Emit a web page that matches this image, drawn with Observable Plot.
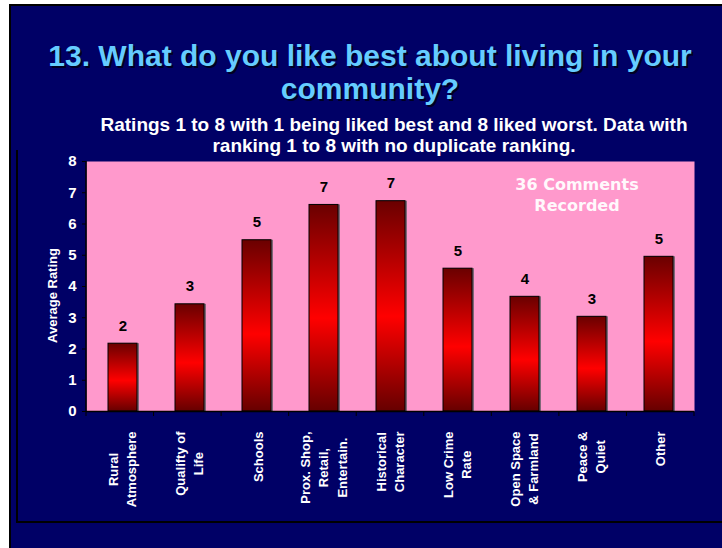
<!DOCTYPE html>
<html>
<head>
<meta charset="utf-8">
<script src="https://cdn.jsdelivr.net/npm/d3@7"></script>
<script src="https://cdn.jsdelivr.net/npm/@observablehq/plot@0.6"></script>
<style>
  html, body { margin: 0; padding: 0; background: #fff; width: 722px; height: 548px; overflow: hidden; }
  #slide { position: absolute; left: 9px; top: 4px; width: 713px; height: 544px; background: #000066;
           border-left: 2px solid #000; border-top: 2px solid #000; box-sizing: border-box; }
  #frameV { position: absolute; left: 16px; top: 150px; width: 2px; height: 373px; background: #000; }
  #frameH { position: absolute; left: 16px; top: 521px; width: 706px; height: 2px; background: #000; }
  #title { position: absolute; left: 18px; width: 704px; top: 39px; text-align: center;
           font-family: "Liberation Sans", Arial, sans-serif; font-weight: bold; font-size: 30px; line-height: 33px;
           color: #66ccff; text-shadow: 2px 2px 0 #000022; }
  #subtitle { position: absolute; left: 60px; width: 668px; top: 114px; text-align: center;
           font-family: "Liberation Sans", Arial, sans-serif; font-weight: bold; font-size: 19px; line-height: 21px;
           color: #fff; }
  #chart { position: absolute; left: 0; top: 150px; }
</style>
</head>
<body>
<div id="slide"></div>
<div id="frameV"></div>
<div id="frameH"></div>
<div id="title">13. What do you like best about living in your<br>community?</div>
<div id="subtitle">Ratings 1 to 8 with 1 being liked best and 8 liked worst. Data with<br>ranking 1 to 8 with no duplicate ranking.</div>
<svg width="0" height="0" style="position:absolute">
  <defs>
    <linearGradient id="barGrad" x1="0" y1="0" x2="0" y2="1">
      <stop offset="0" stop-color="#6a0000"/>
      <stop offset="0.55" stop-color="#ff0000"/>
      <stop offset="1" stop-color="#660000"/>
    </linearGradient>
  </defs>
</svg>
<div id="chart"></div>
<script>
const categories = ["Rural\nAtmosphere", "Qualifty of\nLife", "Schools", "Prox. Shop,\nRetail,\nEntertain.",
  "Historical\nCharacter", "Low Crime\nRate", "Open Space\n& Farmland", "Peace &\nQuiet", "Other"];
const ratings = [2.17, 3.43, 5.48, 6.61, 6.73, 4.57, 3.67, 3.03, 4.95];
const yTicks = [0, 1, 2, 3, 4, 5, 6, 7, 8];
const yLabel = "Average Rating";
const noteText = ["36 Comments\nRecorded"];
const noteCategory = "Peace &\nQuiet";
const noteValue = 7;

const rows = categories.map((c, i) => ({cat: c, value: ratings[i]}));
const font = "'Liberation Sans', Arial, sans-serif";

const chart = Plot.plot({
  width: 722, height: 372,
  marginLeft: 86, marginRight: 28, marginTop: 11, marginBottom: 111,
  style: {background: "transparent", fontFamily: font, overflow: "visible", color: "#fff"},
  x: {domain: categories, paddingInner: 0.57, paddingOuter: 0.285, axis: null},
  y: {domain: [0, 8], axis: null},
  marks: [
    Plot.frame({fill: "#ff99cc", stroke: "none"}),
    Plot.barY(rows, {x: "cat", y: "value", fill: "#806878", dx: 2}),
    Plot.barY(rows, {x: "cat", y: "value", fill: "url(#barGrad)", stroke: "#000", strokeWidth: 1}),
    Plot.text(rows, {x: "cat", y: "value", text: d => d3.format(".0f")(d.value), dy: -18,
      fill: "#000", fontSize: 15, fontWeight: "bold"}),
    Plot.ruleY([0], {stroke: "#000", strokeWidth: 1.5}),
    Plot.axisY(yTicks, {tickSize: 4, tickPadding: 6, stroke: "#000", fill: "#fff", fontSize: 15,
      fontWeight: "bold", label: null}),
    Plot.text([yLabel], {frameAnchor: "left", textAnchor: "middle", lineAnchor: "middle", rotate: -90,
      dx: -34, dy: 9, fill: "#fff", fontSize: 13, fontWeight: "bold"}),
    Plot.text(categories, {x: d => d, frameAnchor: "bottom", rotate: -90, textAnchor: "end",
      lineAnchor: "middle", lineHeight: 1.42, dy: 20, fill: "#fff", fontSize: 13, fontWeight: "bold"}),
    Plot.text(noteText, {x: () => noteCategory, y: () => noteValue, dx: -15, dy: 1, fill: "#fff8fc",
      textAnchor: "middle", lineAnchor: "middle",
      fontSize: 16, lineHeight: 1.31, fontWeight: "bold", fontFamily: "'DejaVu Sans', sans-serif"})
  ]
});
document.getElementById("chart").appendChild(chart);

// left axis line and category boundary ticks, from the plot's x scale
const xs = chart.scale("x");
const [r0, r1] = xs.range;
const step = (r1 - r0) / categories.length;
const ys = chart.scale("y");
const yBottom = ys.range[0], yTop = ys.range[1];
const g = d3.select(chart).append("g");
g.append("line").attr("x1", r0).attr("x2", r0).attr("y1", yTop).attr("y2", yBottom)
  .attr("stroke", "#000").attr("stroke-width", 1.5);
d3.range(categories.length + 1).forEach(i => {
  const bx = r0 + i * step;
  g.append("line").attr("x1", bx).attr("x2", bx).attr("y1", yBottom).attr("y2", yBottom + 5)
    .attr("stroke", "#000");
});

// rebuild multi-line rotated category labels: lines centred on each other, block end-aligned
const svgNS = "http://www.w3.org/2000/svg";
const catSet = new Set(categories.map(c => c.replace(/\n/g, "")));
const lineStep = 18.5;
chart.querySelectorAll("text").forEach(text => {
  const tspans = text.querySelectorAll("tspan");
  if (tspans.length < 2 || !catSet.has(text.textContent)) return;
  const lines = [...tspans].map(t => t.textContent);
  const n = lines.length;
  while (text.firstChild) text.removeChild(text.firstChild);
  text.removeAttribute("y");
  text.removeAttribute("dy");
  text.setAttribute("text-anchor", "middle");
  const spans = lines.map((s, j) => {
    const t = document.createElementNS(svgNS, "tspan");
    t.textContent = s;
    t.setAttribute("y", ((j - (n - 1) / 2) * lineStep).toFixed(2));
    t.setAttribute("dy", "0.32em");
    t.setAttribute("text-anchor", "middle");
    text.appendChild(t);
    return t;
  });
  const maxLen = Math.max(...spans.map(t => t.getComputedTextLength()));
  spans.forEach(t => t.setAttribute("x", (-maxLen / 2).toFixed(2)));
});
</script>
</body>
</html>
